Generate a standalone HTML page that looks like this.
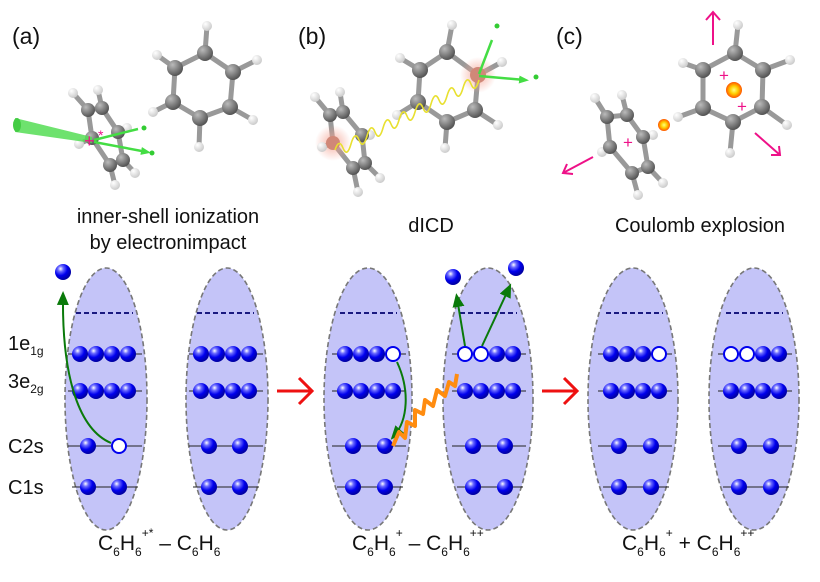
<!DOCTYPE html>
<html><head><meta charset="utf-8"><style>html,body{margin:0;padding:0;background:#fff}svg{display:block}text{font-family:"Liberation Sans",sans-serif;fill:#111}</style></head>
<body>
<svg width="820" height="582" viewBox="0 0 820 582" xmlns="http://www.w3.org/2000/svg">
<defs>
<radialGradient id="bb" cx="0.35" cy="0.3" r="0.7"><stop offset="0" stop-color="#fff"/><stop offset="0.25" stop-color="#6a6aff"/><stop offset="0.6" stop-color="#0000ee"/><stop offset="1" stop-color="#0000a0"/></radialGradient>
<radialGradient id="cg" cx="0.35" cy="0.3" r="0.7"><stop offset="0" stop-color="#bbb"/><stop offset="1" stop-color="#555"/></radialGradient>
<radialGradient id="hg" cx="0.35" cy="0.3" r="0.7"><stop offset="0" stop-color="#fff"/><stop offset="1" stop-color="#ccc"/></radialGradient>
<radialGradient id="rg" cx="0.5" cy="0.5" r="0.5"><stop offset="0" stop-color="#f4a090" stop-opacity="0.8"/><stop offset="1" stop-color="#f4a090" stop-opacity="0"/></radialGradient>
<radialGradient id="sg" cx="0.5" cy="0.5" r="0.5"><stop offset="0" stop-color="#ffff80"/><stop offset="0.5" stop-color="#ffcc00"/><stop offset="1" stop-color="#ff5500"/></radialGradient>
<marker id="ga" markerWidth="14" markerHeight="14" refX="9" refY="7" orient="auto" markerUnits="userSpaceOnUse" viewBox="0 0 14 14"><path d="M0,1 L14,7 L0,13z" fill="#0a7a0a"/></marker>
<marker id="la" markerWidth="10" markerHeight="10" refX="6" refY="5" orient="auto" markerUnits="userSpaceOnUse" viewBox="0 0 10 10"><path d="M0,1 L10,5 L0,9z" fill="#44dd44"/></marker>
</defs>

<text x="12" y="44" font-size="23">(a)</text>
<text x="298" y="44" font-size="23">(b)</text>
<text x="556" y="44" font-size="23">(c)</text>
<text x="168" y="223" font-size="20" text-anchor="middle">inner-shell ionization</text>
<text x="168" y="249" font-size="20" text-anchor="middle">by electronimpact</text>
<text x="431" y="232" font-size="20" text-anchor="middle">dICD</text>
<text x="700" y="232" font-size="20" text-anchor="middle">Coulomb explosion</text>

<g stroke="#999" stroke-width="5" fill="none">
<polygon points="205,53 233,72 230,107 200,118 173,102 175,68"/>
<path d="M205,53L207,26M233,72L257,60M230,107L253,120M200,118L199,147M173,102L153,112M175,68L157,55"/>
<polygon points="88,110 102,108 118,132 123,160 110,165 92,138"/>
<path d="M88,110L73,93M102,108L98,90M92,138L79,144M123,160L135,173M110,165L115,185M118,132L127,128"/>
<polygon points="447,52 478,75 475,110 447,122 418,102 420,70"/>
<path d="M447,52L452,25M420,70L400,58M447,122L445,148M475,110L498,125M478,75L502,62M418,102L397,115"/>
<polygon points="330,115 343,112 362,135 365,163 353,168 333,143"/>
<path d="M330,115L315,97M343,112L340,92M333,143L322,147M365,163L380,178M353,168L358,192M362,135L370,135"/>
<polygon points="735,53 763,70 762,107 733,122 703,108 703,70"/>
<path d="M735,53L738,25M763,70L790,60M762,107L787,125M733,122L730,153M703,108L678,117M703,70L683,63"/>
<polygon points="607,117 627,115 643,137 648,167 632,173 610,147"/>
<path d="M607,117L595,98M627,115L622,95M610,147L602,152M648,167L663,183M632,173L638,195M643,137L653,135"/>
</g>
<circle cx="333" cy="143" r="18" fill="url(#rg)"/>
<circle cx="478" cy="75" r="18" fill="url(#rg)"/>
<g fill="url(#hg)">
<circle cx="207" cy="26" r="5"/><circle cx="257" cy="60" r="5"/><circle cx="253" cy="120" r="5"/><circle cx="199" cy="147" r="5"/><circle cx="153" cy="112" r="5"/><circle cx="157" cy="55" r="5"/>
<circle cx="73" cy="93" r="5"/><circle cx="98" cy="90" r="5"/><circle cx="79" cy="144" r="5"/><circle cx="135" cy="173" r="5"/><circle cx="115" cy="185" r="5"/><circle cx="127" cy="128" r="5"/>
<circle cx="452" cy="25" r="5"/><circle cx="400" cy="58" r="5"/><circle cx="445" cy="148" r="5"/><circle cx="498" cy="125" r="5"/><circle cx="502" cy="62" r="5"/><circle cx="397" cy="115" r="5"/>
<circle cx="315" cy="97" r="5"/><circle cx="340" cy="92" r="5"/><circle cx="322" cy="147" r="5"/><circle cx="380" cy="178" r="5"/><circle cx="358" cy="192" r="5"/><circle cx="370" cy="135" r="5"/>
<circle cx="738" cy="25" r="5"/><circle cx="790" cy="60" r="5"/><circle cx="787" cy="125" r="5"/><circle cx="730" cy="153" r="5"/><circle cx="678" cy="117" r="5"/><circle cx="683" cy="63" r="5"/>
<circle cx="595" cy="98" r="5"/><circle cx="622" cy="95" r="5"/><circle cx="602" cy="152" r="5"/><circle cx="663" cy="183" r="5"/><circle cx="638" cy="195" r="5"/><circle cx="653" cy="135" r="5"/>
</g>
<g fill="url(#cg)">
<circle cx="205" cy="53" r="8"/><circle cx="233" cy="72" r="8"/><circle cx="230" cy="107" r="8"/><circle cx="200" cy="118" r="8"/><circle cx="173" cy="102" r="8"/><circle cx="175" cy="68" r="8"/>
<circle cx="88" cy="110" r="7"/><circle cx="102" cy="108" r="7"/><circle cx="118" cy="132" r="7"/><circle cx="123" cy="160" r="7"/><circle cx="110" cy="165" r="7"/><circle cx="92" cy="138" r="7"/>
<circle cx="447" cy="52" r="8"/><circle cx="420" cy="70" r="8"/><circle cx="418" cy="102" r="8"/><circle cx="447" cy="122" r="8"/><circle cx="475" cy="110" r="8"/>
<circle cx="330" cy="115" r="7"/><circle cx="343" cy="112" r="7"/><circle cx="362" cy="135" r="7"/><circle cx="365" cy="163" r="7"/><circle cx="353" cy="168" r="7"/>
<circle cx="735" cy="53" r="8"/><circle cx="763" cy="70" r="8"/><circle cx="762" cy="107" r="8"/><circle cx="733" cy="122" r="8"/><circle cx="703" cy="108" r="8"/><circle cx="703" cy="70" r="8"/>
<circle cx="607" cy="117" r="7"/><circle cx="627" cy="115" r="7"/><circle cx="643" cy="137" r="7"/><circle cx="648" cy="167" r="7"/><circle cx="632" cy="173" r="7"/><circle cx="610" cy="147" r="7"/>
</g>
<circle cx="478" cy="75" r="8" fill="#d08878"/><circle cx="333" cy="143" r="7" fill="#d08878"/>
<polygon points="15,118 92,137 92,143 15,132" fill="#55dd55" opacity="0.85"/>
<ellipse cx="17" cy="125" rx="4" ry="7" fill="#44cc44"/>
<path d="M94,140L138,129M94,142L147,152" stroke="#44dd44" stroke-width="2.5" marker-end="url(#la)"/>
<circle cx="144" cy="128" r="2.5" fill="#33cc33"/><circle cx="152" cy="153" r="2.5" fill="#33cc33"/>
<text x="84" y="147" font-size="18" style="fill:#ee1188">+</text>
<text x="98" y="140" font-size="14" style="fill:#ee1188">*</text>
<path d="M335,150 q4,-12 8,-2 t8,-4 t8,-4 t8,-4 t8,-4 t8,-4 t8,-4 t8,-4 t8,-4 t8,-4 t8,-4 t8,-4 t8,-4 t8,-4 t8,-4 t8,-4 t8,-4 t8,-4" stroke="#e8e030" stroke-width="1.6" fill="none"/>
<path d="M479,74L492,40M479,76L525,80" stroke="#44dd44" stroke-width="2.5" marker-end="url(#la)"/>
<circle cx="497" cy="26" r="2.5" fill="#33cc33"/><circle cx="536" cy="77" r="2.5" fill="#33cc33"/>
<g stroke="#ee1188" stroke-width="2" fill="none">
<path d="M713,45L713,12M706,20L713,12L720,20"/>
<path d="M755,133L780,155M771,155L780,155L779,146"/>
<path d="M593,157L563,173M567,164L563,173L573,174"/>
</g>
<text x="719" y="81" font-size="17" style="fill:#ee1188">+</text>
<text x="737" y="112" font-size="17" style="fill:#ee1188">+</text>
<text x="623" y="148" font-size="17" style="fill:#ee1188">+</text>
<circle cx="734" cy="90" r="8" fill="url(#sg)"/>
<circle cx="664" cy="125" r="6" fill="url(#sg)"/>

<g fill="#c4c4f8" stroke="#777" stroke-width="1.6" stroke-dasharray="5,3">
<ellipse cx="106" cy="399" rx="41" ry="131"/>
<ellipse cx="227" cy="399" rx="41" ry="131"/>
<ellipse cx="368" cy="399" rx="44" ry="131"/>
<ellipse cx="488" cy="399" rx="45" ry="131"/>
<ellipse cx="633" cy="399" rx="45" ry="131"/>
<ellipse cx="754" cy="399" rx="45" ry="131"/>
</g>
<g stroke="#222" stroke-width="1">
<path d="M68,354h74M68,391h74M68,446h74M72,487h66"/>
<path d="M189,354h74M189,391h74M189,446h74M193,487h66"/>
<path d="M332,354h74M332,391h74M332,446h74M337,487h66"/>
<path d="M452,354h74M452,391h74M452,446h74M457,487h66"/>
<path d="M598,354h74M598,391h74M598,446h74M603,487h66"/>
<path d="M718,354h74M718,391h74M718,446h74M723,487h66"/>
</g>
<g stroke="#1a1a80" stroke-width="2" stroke-dasharray="5,3">
<path d="M76,313h57M197,313h57M340,313h57M460,313h57M606,313h57M726,313h57"/>
</g>
<g fill="url(#bb)">
<circle cx="80" cy="354" r="8"/><circle cx="96" cy="354" r="8"/><circle cx="112" cy="354" r="8"/><circle cx="128" cy="354" r="8"/>
<circle cx="80" cy="391" r="8"/><circle cx="96" cy="391" r="8"/><circle cx="112" cy="391" r="8"/><circle cx="128" cy="391" r="8"/>
<circle cx="88" cy="446" r="8"/><circle cx="88" cy="487" r="8"/><circle cx="119" cy="487" r="8"/>
<circle cx="201" cy="354" r="8"/><circle cx="217" cy="354" r="8"/><circle cx="233" cy="354" r="8"/><circle cx="249" cy="354" r="8"/>
<circle cx="201" cy="391" r="8"/><circle cx="217" cy="391" r="8"/><circle cx="233" cy="391" r="8"/><circle cx="249" cy="391" r="8"/>
<circle cx="209" cy="446" r="8"/><circle cx="240" cy="446" r="8"/><circle cx="209" cy="487" r="8"/><circle cx="240" cy="487" r="8"/>
<circle cx="345" cy="354" r="8"/><circle cx="361" cy="354" r="8"/><circle cx="377" cy="354" r="8"/>
<circle cx="345" cy="391" r="8"/><circle cx="361" cy="391" r="8"/><circle cx="377" cy="391" r="8"/><circle cx="393" cy="391" r="8"/>
<circle cx="353" cy="446" r="8"/><circle cx="385" cy="446" r="8"/><circle cx="353" cy="487" r="8"/><circle cx="385" cy="487" r="8"/>
<circle cx="497" cy="354" r="8"/><circle cx="513" cy="354" r="8"/>
<circle cx="465" cy="391" r="8"/><circle cx="481" cy="391" r="8"/><circle cx="497" cy="391" r="8"/><circle cx="513" cy="391" r="8"/>
<circle cx="473" cy="446" r="8"/><circle cx="505" cy="446" r="8"/><circle cx="473" cy="487" r="8"/><circle cx="505" cy="487" r="8"/>
<circle cx="611" cy="354" r="8"/><circle cx="627" cy="354" r="8"/><circle cx="643" cy="354" r="8"/>
<circle cx="611" cy="391" r="8"/><circle cx="627" cy="391" r="8"/><circle cx="643" cy="391" r="8"/><circle cx="659" cy="391" r="8"/>
<circle cx="619" cy="446" r="8"/><circle cx="651" cy="446" r="8"/><circle cx="619" cy="487" r="8"/><circle cx="651" cy="487" r="8"/>
<circle cx="763" cy="354" r="8"/><circle cx="779" cy="354" r="8"/>
<circle cx="731" cy="391" r="8"/><circle cx="747" cy="391" r="8"/><circle cx="763" cy="391" r="8"/><circle cx="779" cy="391" r="8"/>
<circle cx="739" cy="446" r="8"/><circle cx="771" cy="446" r="8"/><circle cx="739" cy="487" r="8"/><circle cx="771" cy="487" r="8"/>
<circle cx="63" cy="272" r="8"/><circle cx="453" cy="277" r="8"/><circle cx="516" cy="268" r="8"/>
</g>
<g fill="#fff" stroke="#0000ee" stroke-width="2">
<circle cx="119" cy="446" r="7"/>
<circle cx="393" cy="354" r="7"/>
<circle cx="465" cy="354" r="7"/><circle cx="481" cy="354" r="7"/>
<circle cx="659" cy="354" r="7"/>
<circle cx="731" cy="354" r="7"/><circle cx="747" cy="354" r="7"/>
</g>
<g stroke="#0a7a0a" stroke-width="2" fill="none">
<path d="M111,443 C80,430 62,380 63,296" marker-end="url(#ga)"/>
<path d="M397,362 C410,390 408,420 394,436" marker-end="url(#ga)"/>
<path d="M465,346 L457,298" marker-end="url(#ga)"/>
<path d="M482,346 L509,288" marker-end="url(#ga)"/>
</g>
<path d="M393,446 l6,-14 l6,6 l2,-16 l8,4 l0,-16 l8,4 l2,-14 l8,6 l4,-16 l8,6 l4,-14 l6,4 l2,-12" stroke="#ff8c10" stroke-width="4" fill="none" stroke-linejoin="round"/>
<g stroke="#ee1111" stroke-width="3" fill="none">
<path d="M277,391h34M299,378l13,13l-13,13"/>
<path d="M542,391h35M564,378l13,13l-13,13"/>
</g>
<text x="8" y="350" font-size="20">1e<tspan font-size="12" dy="5">1g</tspan></text>
<text x="8" y="388" font-size="20">3e<tspan font-size="12" dy="5">2g</tspan></text>
<text x="8" y="453" font-size="20">C2s</text>
<text x="8" y="494" font-size="20">C1s</text>
<text x="98" y="550" font-size="21">C<tspan font-size="12" dy="6">6</tspan><tspan dy="-6">H</tspan><tspan font-size="12" dy="6">6</tspan><tspan font-size="12" dy="-19">+*</tspan><tspan dy="13"> – C</tspan><tspan font-size="12" dy="6">6</tspan><tspan dy="-6">H</tspan><tspan font-size="12" dy="6">6</tspan></text>
<text x="352" y="550" font-size="21">C<tspan font-size="12" dy="6">6</tspan><tspan dy="-6">H</tspan><tspan font-size="12" dy="6">6</tspan><tspan font-size="12" dy="-19">+</tspan><tspan dy="13"> – C</tspan><tspan font-size="12" dy="6">6</tspan><tspan dy="-6">H</tspan><tspan font-size="12" dy="6">6</tspan><tspan font-size="12" dy="-19">++</tspan></text>
<text x="622" y="550" font-size="21">C<tspan font-size="12" dy="6">6</tspan><tspan dy="-6">H</tspan><tspan font-size="12" dy="6">6</tspan><tspan font-size="12" dy="-19">+</tspan><tspan dy="13"> + C</tspan><tspan font-size="12" dy="6">6</tspan><tspan dy="-6">H</tspan><tspan font-size="12" dy="6">6</tspan><tspan font-size="12" dy="-19">++</tspan></text>
</svg>
</body></html>
